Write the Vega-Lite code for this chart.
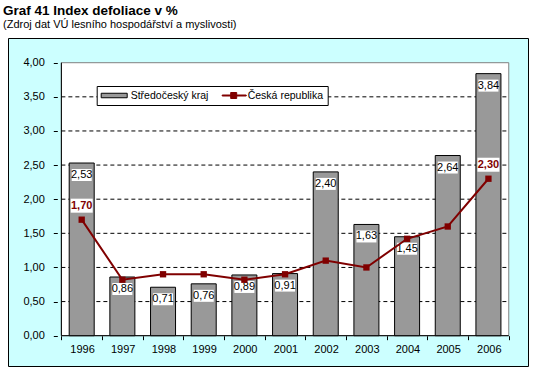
{
  "$schema": "https://vega.github.io/schema/vega-lite/v6.json",
  "width": 520,
  "height": 328,
  "autosize": "none",
  "padding": {"left": 8, "top": 38, "right": 9, "bottom": 10},
  "background": "white",
  "title": {
    "text": "Graf 41 Index defoliace v %",
    "subtitle": "(Zdroj dat VÚ lesního hospodářství a myslivosti)",
    "anchor": "start",
    "frame": "group",
    "offset": 8,
    "dx": -5,
    "font": "Liberation Sans",
    "fontSize": 13.5,
    "fontWeight": "bold",
    "color": "black",
    "subtitleFont": "Liberation Sans",
    "subtitleFontSize": 11,
    "subtitleColor": "black",
    "subtitlePadding": 2
  },
  "datasets": {
    "kraj": [
      {"year": 1996, "value": 2.53, "series": "Středočeský kraj"},
      {"year": 1997, "value": 0.86, "series": "Středočeský kraj"},
      {"year": 1998, "value": 0.71, "series": "Středočeský kraj"},
      {"year": 1999, "value": 0.76, "series": "Středočeský kraj"},
      {"year": 2000, "value": 0.89, "series": "Středočeský kraj"},
      {"year": 2001, "value": 0.91, "series": "Středočeský kraj"},
      {"year": 2002, "value": 2.40, "series": "Středočeský kraj"},
      {"year": 2003, "value": 1.63, "series": "Středočeský kraj"},
      {"year": 2004, "value": 1.45, "series": "Středočeský kraj"},
      {"year": 2005, "value": 2.64, "series": "Středočeský kraj"},
      {"year": 2006, "value": 3.84, "series": "Středočeský kraj"}
    ],
    "cr": [
      {"year": 1996, "value": 1.70, "series": "Česká republika"},
      {"year": 1997, "value": 0.82, "series": "Česká republika"},
      {"year": 1998, "value": 0.90, "series": "Česká republika"},
      {"year": 1999, "value": 0.90, "series": "Česká republika"},
      {"year": 2000, "value": 0.82, "series": "Česká republika"},
      {"year": 2001, "value": 0.90, "series": "Česká republika"},
      {"year": 2002, "value": 1.10, "series": "Česká republika"},
      {"year": 2003, "value": 1.00, "series": "Česká republika"},
      {"year": 2004, "value": 1.42, "series": "Česká republika"},
      {"year": 2005, "value": 1.60, "series": "Česká republika"},
      {"year": 2006, "value": 2.30, "series": "Česká republika"}
    ],
    "grid": [
      {"level": 0.5}, {"level": 1.0}, {"level": 1.5}, {"level": 2.0},
      {"level": 2.5}, {"level": 3.0}, {"level": 3.5}
    ],
    "one": [{}]
  },
  "layer": [
    {
      "data": {"name": "one"},
      "mark": {"type": "rect", "fill": "white", "stroke": "#808080", "strokeWidth": 1},
      "encoding": {
        "x": {"datum": 1995.5, "type": "quantitative",
          "scale": {"domain": [1994.311, 2006.85], "nice": false, "zero": false},
          "axis": {"orient": "bottom", "offset": -30.3, "title": null,
            "values": [1995.5, 1996.5, 1997.5, 1998.5, 1999.5, 2000.5, 2001.5, 2002.5, 2003.5, 2004.5, 2005.5, 2006.5],
            "labelExpr": "datum.value < 2006 ? format(datum.value + 0.5, 'd') : ''",
            "labelOffset": 20.7, "tickSize": 4, "labelPadding": 4,
            "labelOverlap": false, "labelFlush": false, "labelBound": false}},
        "x2": {"datum": 2006.5},
        "y": {"datum": 0, "type": "quantitative",
          "scale": {"domain": [-0.444, 4.362], "nice": false, "zero": false},
          "axis": {"orient": "left", "offset": -49.3, "title": null,
            "values": [0, 0.5, 1, 1.5, 2, 2.5, 3, 3.5, 4],
            "format": ".2f", "tickSize": 4, "labelPadding": 9,
            "labelOverlap": false, "labelFlush": false, "labelBound": false}},
        "y2": {"datum": 4}
      }
    },
    {
      "data": {"name": "grid"},
      "mark": {"type": "rule", "stroke": "black", "strokeWidth": 1, "strokeDash": [4, 3]},
      "encoding": {
        "x": {"datum": 1995.5, "type": "quantitative", "scale": {"domain": [1994.311, 2006.85], "nice": false, "zero": false}},
        "x2": {"datum": 2006.5},
        "y": {"field": "level", "type": "quantitative", "scale": {"domain": [-0.444, 4.362], "nice": false, "zero": false}}
      }
    },
    {
      "data": {"name": "one"},
      "mark": {"type": "rule", "stroke": "black", "strokeWidth": 1},
      "encoding": {
        "x": {"datum": 1995.5, "type": "quantitative", "scale": {"domain": [1994.311, 2006.85], "nice": false, "zero": false}},
        "y": {"datum": 0, "type": "quantitative", "scale": {"domain": [-0.444, 4.362], "nice": false, "zero": false}},
        "y2": {"datum": 4}
      }
    },
    {
      "data": {"name": "one"},
      "mark": {"type": "rule", "stroke": "black", "strokeWidth": 1},
      "encoding": {
        "x": {"datum": 1995.5, "type": "quantitative", "scale": {"domain": [1994.311, 2006.85], "nice": false, "zero": false}},
        "x2": {"datum": 2006.5},
        "y": {"datum": 0, "type": "quantitative", "scale": {"domain": [-0.444, 4.362], "nice": false, "zero": false}}
      }
    },
    {
      "data": {"name": "kraj"},
      "mark": {"type": "bar", "width": 25, "fill": "#999999", "stroke": "black", "strokeWidth": 1, "opacity": 1},
      "encoding": {
        "x": {"field": "year", "type": "quantitative", "scale": {"domain": [1994.311, 2006.85], "nice": false, "zero": false}},
        "y": {"field": "value", "type": "quantitative", "scale": {"domain": [-0.444, 4.362], "nice": false, "zero": false}},
        "y2": {"datum": 0}
      }
    },
    {
      "data": {"name": "kraj"},
      "mark": {"type": "point", "shape": "M-2,-1.2H2V1.2H-2Z", "size": 100, "filled": true, "fill": "white", "strokeWidth": 0, "opacity": 1, "yOffset": 12},
      "encoding": {
        "x": {"field": "year", "type": "quantitative", "scale": {"domain": [1994.311, 2006.85], "nice": false, "zero": false}},
        "y": {"field": "value", "type": "quantitative", "scale": {"domain": [-0.444, 4.362], "nice": false, "zero": false}}
      }
    },
    {
      "data": {"name": "kraj"},
      "mark": {"type": "text", "dy": 12, "font": "Liberation Sans", "fontSize": 11, "color": "black", "baseline": "middle", "align": "center"},
      "encoding": {
        "x": {"field": "year", "type": "quantitative", "scale": {"domain": [1994.311, 2006.85], "nice": false, "zero": false}},
        "y": {"field": "value", "type": "quantitative", "scale": {"domain": [-0.444, 4.362], "nice": false, "zero": false}},
        "text": {"field": "value", "type": "quantitative", "format": ".2f"}
      }
    },
    {
      "data": {"name": "cr"},
      "mark": {"type": "line", "color": "#800000", "strokeWidth": 2},
      "encoding": {
        "x": {"field": "year", "type": "quantitative", "scale": {"domain": [1994.311, 2006.85], "nice": false, "zero": false}},
        "y": {"field": "value", "type": "quantitative", "scale": {"domain": [-0.444, 4.362], "nice": false, "zero": false}}
      }
    },
    {
      "data": {"name": "cr"},
      "mark": {"type": "point", "shape": "square", "size": 40, "filled": true, "color": "#800000", "opacity": 1},
      "encoding": {
        "x": {"field": "year", "type": "quantitative", "scale": {"domain": [1994.311, 2006.85], "nice": false, "zero": false}},
        "y": {"field": "value", "type": "quantitative", "scale": {"domain": [-0.444, 4.362], "nice": false, "zero": false}}
      }
    },
    {
      "data": {"name": "cr"},
      "mark": {"type": "point", "filled": true, "opacity": 0, "strokeWidth": 1},
      "encoding": {
        "x": {"field": "year", "type": "quantitative", "scale": {"domain": [1994.311, 2006.85], "nice": false, "zero": false}},
        "y": {"field": "value", "type": "quantitative", "scale": {"domain": [-0.444, 4.362], "nice": false, "zero": false}},
        "shape": {"field": "series", "type": "nominal",
          "scale": {"domain": ["Středočeský kraj", "Česká republika"], "range": ["M-1,-0.45H4.2V0.45H-1Z", "M-0.2,-0.1H4.6V0.1H-0.2ZM1.5,-0.6H2.7V0.6H1.5Z"]},
          "legend": {
            "orient": "none", "legendX": 88.7, "legendY": 48,
            "direction": "horizontal", "title": null,
            "fillColor": "white", "strokeColor": "black",
            "padding": 4, "symbolSize": 100, "symbolOpacity": 1, "symbolStrokeWidth": 1,
            "labelOffset": 19, "columnPadding": 9,
            "labelFont": "Liberation Sans", "labelFontSize": 10.5, "labelColor": "black"
          }},
        "fill": {"field": "series", "type": "nominal",
          "scale": {"domain": ["Středočeský kraj", "Česká republika"], "range": ["#999999", "#800000"]}},
        "stroke": {"field": "series", "type": "nominal",
          "scale": {"domain": ["Středočeský kraj", "Česká republika"], "range": ["black", "#800000"]}}
      }
    },
    {
      "data": {"name": "cr"},
      "transform": [{"filter": "datum.year === 1996 || datum.year === 2006"}],
      "mark": {"type": "point", "shape": "M-2.2,-1.4H2.2V1.4H-2.2Z", "size": 100, "filled": true, "fill": "white", "strokeWidth": 0, "opacity": 1, "yOffset": -14},
      "encoding": {
        "x": {"field": "year", "type": "quantitative", "scale": {"domain": [1994.311, 2006.85], "nice": false, "zero": false}},
        "y": {"field": "value", "type": "quantitative", "scale": {"domain": [-0.444, 4.362], "nice": false, "zero": false}}
      }
    },
    {
      "data": {"name": "cr"},
      "transform": [{"filter": "datum.year === 1996 || datum.year === 2006"}],
      "mark": {"type": "text", "dy": -14, "font": "Liberation Sans", "fontSize": 11, "fontWeight": "bold", "color": "#800000", "baseline": "middle", "align": "center"},
      "encoding": {
        "x": {"field": "year", "type": "quantitative", "scale": {"domain": [1994.311, 2006.85], "nice": false, "zero": false}},
        "y": {"field": "value", "type": "quantitative", "scale": {"domain": [-0.444, 4.362], "nice": false, "zero": false}},
        "text": {"field": "value", "type": "quantitative", "format": ".2f"}
      }
    }
  ],
  "config": {
    "font": "Liberation Sans",
    "locale": {"number": {"decimal": ",", "thousands": " ", "grouping": [3], "currency": ["", " Kč"]}},
    "view": {"fill": "#CCFFFF", "stroke": "black", "strokeWidth": 1},
    "axis": {
      "domain": false, "grid": false,
      "tickColor": "black", "tickWidth": 1,
      "labelColor": "black", "labelFont": "Liberation Sans", "labelFontSize": 11
    }
  }
}
